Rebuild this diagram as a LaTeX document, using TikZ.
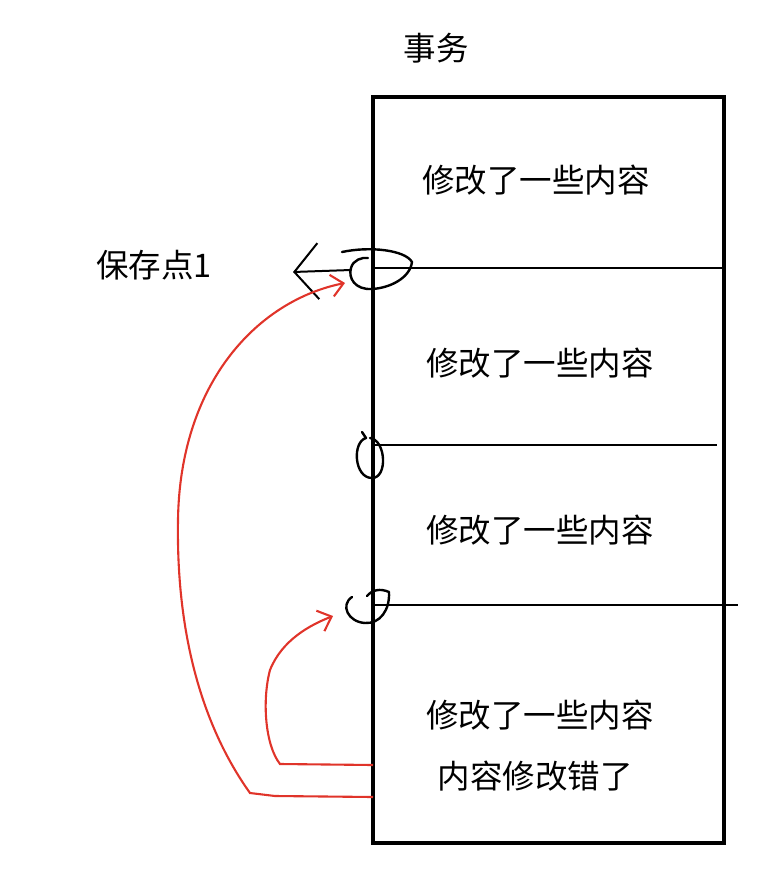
\documentclass[tikz,border=0pt]{standalone}
\usepackage{fontspec}
\setmainfont{Noto Sans CJK SC}
\usetikzlibrary{arrows.meta}
\definecolor{pen red}{RGB}{224,52,42}
\tikzset{
  label/.style={font=\fontsize{32.5}{36}\selectfont, inner sep=0pt},
  mark line/.style={line width=2pt},
  ring/.style={line width=2.4pt, line cap=round, line join=round},
  undo/.style={pen red, line width=2.1pt, -{Straight Barb[length=12pt,width=22pt]}},
}
\begin{document}
\begin{tikzpicture}[x=1pt,y=-1pt]
\useasboundingbox (0,0) rectangle (784,889);
\node[label] (title) at (436,48) {事务};
\node[draw, line width=4pt, minimum width=351pt, minimum height=746pt, inner sep=0pt] (box) at (548.5,470) {};

\node[label] (step1) at (536,180) {修改了一些内容};
\node[label] (step2) at (540,363) {修改了一些内容};
\node[label] (step3) at (540,530) {修改了一些内容};
\node[label] (step4) at (540,715) {修改了一些内容};
\node[label] (wrong) at (535,776) {内容修改错了};
\node[label] (save1) at (154,265) {保存点1};

% split lines
\coordinate (cut1) at (373,268);
\coordinate (cut2) at (373,445);
\coordinate (cut3) at (373,605);
\draw[mark line] (cut1) -- (724,268);
\draw[mark line] (cut2) -- (717,445);
\draw[mark line] (cut3) -- (738,605);

% hand drawn rings
\draw[ring] (342,252) .. controls (370,246) and (405,250) .. (412,262)
  .. controls (410,278) and (390,288) .. (372,289)
  .. controls (355,290) and (348,278) .. (351,268)
  .. controls (353,260) and (362,257) .. (368,258);
\draw[ring] (362,432) -- (366,438) .. controls (352,442) and (354,478) .. (372,478)
  .. controls (388,478) and (386,440) .. (370,438);
\draw[ring] (352,597) .. controls (340,605) and (348,622) .. (365,623)
  .. controls (380,624) and (390,610) .. (389,592)
  .. controls (380,588) and (372,590) .. (367,596);

% back to savepoint 1
\coordinate (tip1) at (293,272);
\draw[line width=2pt, -{Straight Barb[length=24pt,width=56pt]}] (351,270) -- (tip1);

% rollbacks
\coordinate (from1) at (373,797);
\coordinate (from2) at (373,765);
\coordinate (to1) at (345,283);
\coordinate (to2) at (333,616);
\draw[undo] (from1) -- (275,796) -- (250,793)
  .. controls (205,730) and (176,640) .. (178,520)
  .. controls (180,380) and (260,300) .. (to1);
\draw[undo] (from2) -- (280,764)
  .. controls (265,745) and (262,700) .. (270,670)
  .. controls (282,640) and (310,625) .. (to2);
\end{tikzpicture}
\end{document}
